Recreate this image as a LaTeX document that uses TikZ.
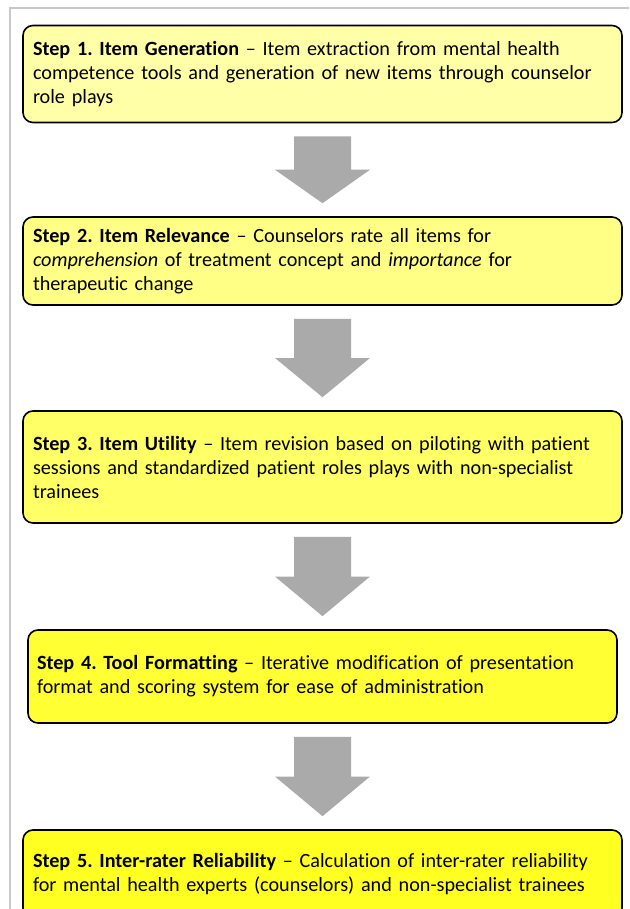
\documentclass[tikz,border=0pt]{standalone}
\usepackage{fontspec}
\setmainfont{Carlito}[Ligatures={NoCommon,TeX}]
\usetikzlibrary{calc}

\definecolor{frameline}{RGB}{200,200,200}
\definecolor{arrowgray}{RGB}{170,170,170}
\definecolor{fillA}{RGB}{255,255,168}
\definecolor{fillB}{RGB}{255,255,133}
\definecolor{fillC}{RGB}{255,255,102}
\definecolor{fillD}{RGB}{255,255,51}
\definecolor{fillE}{RGB}{255,255,34}

\tikzset{
  stepbox/.style={draw=black, line width=1.6pt, rounded corners=10pt,
    rectangle, align=left, inner xsep=10pt, inner ysep=0pt,
    text width=579pt, font=\fontsize{20.2}{24}\selectfont\frenchspacing},
  blockarrow/.style={fill=arrowgray, draw=none},
  framestroke/.style={draw=frameline, line width=1.8pt}
}

% block arrow running from the box above to the box below
\newcommand{\downblock}[2]{%
  \fill[blockarrow] let \p1=($(#1.south)+(0,13)$), \p2=($(#2.north)+(0,-13)$),
    \n1={(\y1+\y2)/2} in
    (\x1-28.5pt,\y1) -- (\x1+28.5pt,\y1) -- (\x1+28.5pt,\n1) -- (\x1+47.5pt,\n1)
    -- (\x1,\y2) -- (\x1-47.5pt,\n1) -- (\x1-28.5pt,\n1) -- cycle;}

\begin{document}
\begin{tikzpicture}[x=1pt,y=-1pt]
\useasboundingbox (0,0) rectangle (629,909);
\clip (0,0) rectangle (629,909);

% outer frame (top and left edges)
\draw[framestroke] (629,8) -- (10,8) -- (10,909);

\node[stepbox, fill=fillA, minimum height=97pt] (s1) at (322.5,74)
  {\textbf{Step 1. Item Generation} – Item extraction from mental health\\
   competence tools and generation of new items through counselor\\
   role plays};

\node[stepbox, fill=fillB, minimum height=88pt] (s2) at (322.5,261)
  {\textbf{Step 2. Item Relevance} – Counselors rate all items for\\
   \textit{comprehension} of treatment concept and \textit{importance} for\\
   therapeutic change};

\node[stepbox, fill=fillC, minimum height=112pt] (s3) at (322.5,467)
  {\textbf{Step 3. Item Utility} – Item revision based on piloting with patient\\
   sessions and standardized patient roles plays with non-specialist\\
   trainees};

\node[stepbox, fill=fillD, minimum height=93pt, text width=571pt, inner xsep=9pt] (s4) at (322.5,676.5)
  {\textbf{Step 4. Tool Formatting} – Iterative modification of presentation\\
   format and scoring system for ease of administration};

\node[stepbox, fill=fillE, minimum height=88pt] (s5) at (322.5,874)
  {\textbf{Step 5. Inter-rater Reliability} – Calculation of inter-rater reliability\\
   for mental health experts (counselors) and non-specialist trainees};

\downblock{s1}{s2}
\downblock{s2}{s3}
\downblock{s3}{s4}
\downblock{s4}{s5}
\end{tikzpicture}
\end{document}
